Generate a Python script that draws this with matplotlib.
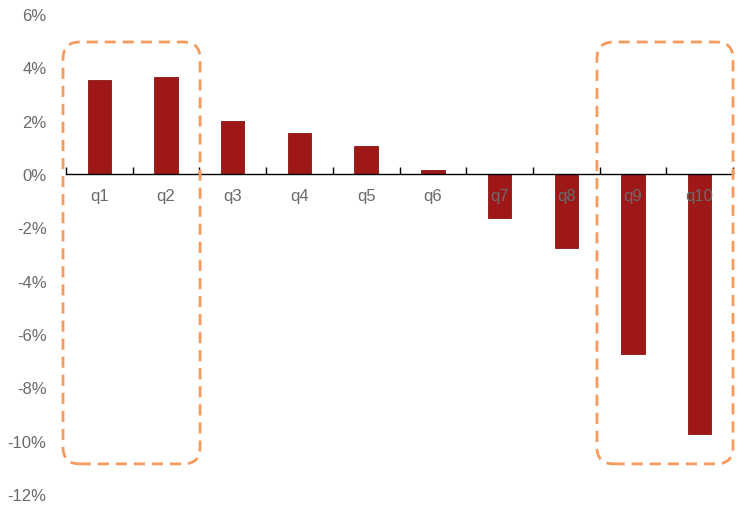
import numpy as np
import matplotlib.pyplot as plt
from matplotlib.patches import FancyBboxPatch
from matplotlib.ticker import FuncFormatter

plt.rcParams['font.family'] = ['Liberation Sans', 'DejaVu Sans']

labels = ['q1', 'q2', 'q3', 'q4', 'q5', 'q6', 'q7', 'q8', 'q9', 'q10']
values = [3.52, 3.64, 1.99, 1.54, 1.05, 0.15, -1.65, -2.78, -6.75, -9.75]  # percent

fig = plt.figure(figsize=(7.44, 5.1), dpi=100)
ax = fig.add_axes([66/744, 15/510, 667/744, 480/510])

x = np.arange(len(labels))
ax.bar(x, values, width=0.35, color='#9E1818', edgecolor='#8A1414', linewidth=0.6)

ax.set_xlim(-0.5, len(labels) - 0.5)
ax.set_ylim(-12, 6)
ax.set_yticks(np.arange(-12, 7, 2))
ax.yaxis.set_major_formatter(FuncFormatter(lambda v, p: f'{v:.0f}%'))

for s in ['top', 'right', 'left']:
    ax.spines[s].set_visible(False)
ax.spines['bottom'].set_position(('data', 0))
ax.spines['bottom'].set_color('black')
ax.spines['bottom'].set_linewidth(1.0)

ax.set_xticks(x)
ax.set_xticklabels(labels)
ax.set_xticks(np.arange(-0.5, len(labels), 1), minor=True)
ax.tick_params(axis='x', which='major', length=0, pad=10, labelsize=12, labelcolor='#6A6A6A')
ax.tick_params(axis='x', which='minor', direction='in', length=5, width=1, color='black')
ax.tick_params(axis='y', length=0, pad=14, labelsize=12, labelcolor='#6A6A6A')

# dashed highlight boxes
asp = (667 / len(labels)) / (480 / 18)
for x0, x1 in [(-0.545, 1.51), (7.46, 9.5)]:
    y0, y1 = -10.87, 4.95
    box = FancyBboxPatch((x0, y0), x1 - x0, y1 - y0,
                         boxstyle='round,pad=0,rounding_size=0.25',
                         mutation_aspect=asp, fill=False,
                         edgecolor='#F79A5E', linewidth=2, linestyle=(0, (4, 2.5)),
                         clip_on=False, zorder=3)
    ax.add_patch(box)

fig.savefig('out.png', dpi=100)
